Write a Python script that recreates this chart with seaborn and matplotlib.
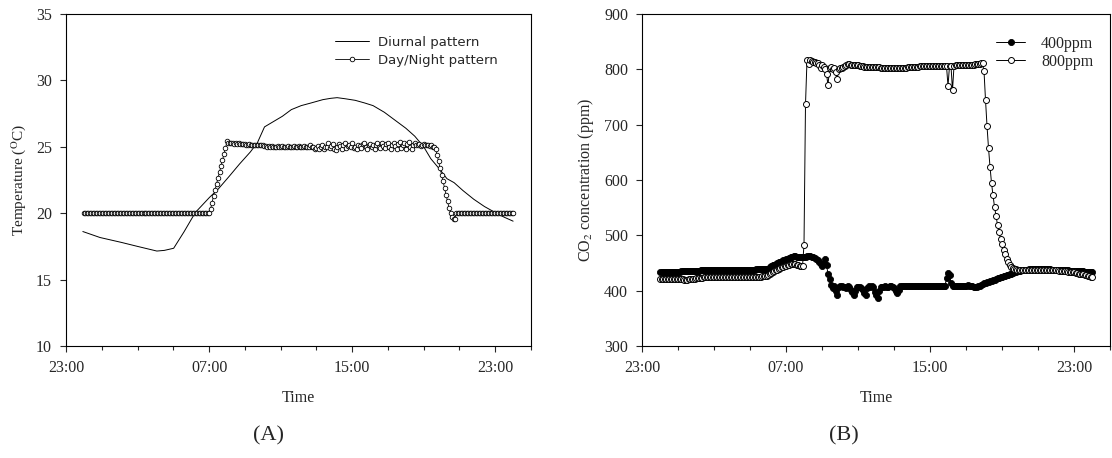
import numpy as np
import pandas as pd
import matplotlib
matplotlib.use('Agg')
import matplotlib.pyplot as plt
from matplotlib.ticker import MultipleLocator, FixedLocator
import seaborn as sns

#%% DATA ----------------------------------------------------------------
# x axis is hours counted from 23:00 (0 = 23:00, 8 = 07:00, 16 = 15:00, 24 = 23:00)
# logged series: one value every 5 min from 00:00 (x=1) to 24:00 (x=25)
t_start = 1.0
t_step = 5 / 60

# (A) Day/Night temperature pattern (degC), one row per clock hour 00..23 + final point
temp_daynight = [
    20.0, 20.0, 20.0, 20.0, 20.0, 20.0, 20.0, 20.0, 20.0, 20.0, 20.0, 20.0,  # 00
    20.0, 20.0, 20.0, 20.0, 20.0, 20.0, 20.0, 20.0, 20.0, 20.0, 20.0, 20.0,  # 01
    20.0, 20.0, 20.0, 20.0, 20.0, 20.0, 20.0, 20.0, 20.0, 20.0, 20.0, 20.0,  # 02
    20.0, 20.0, 20.0, 20.0, 20.0, 20.0, 20.0, 20.0, 20.0, 20.0, 20.0, 20.0,  # 03
    20.0, 20.0, 20.0, 20.0, 20.0, 20.0, 20.0, 20.0, 20.0, 20.0, 20.0, 20.0,  # 04
    20.0, 20.0, 20.0, 20.0, 20.0, 20.0, 20.0, 20.0, 20.0, 20.0, 20.0, 20.0,  # 05
    20.0, 20.0, 20.0, 20.0, 20.0, 20.0, 20.0, 20.0, 20.0, 20.0, 20.0, 20.0,  # 06
    20.0, 20.3, 20.8, 21.3, 21.75, 22.2, 22.65, 23.1, 23.55, 24.0, 24.45, 24.9,  # 07
    25.4, 25.3, 25.25, 25.25, 25.25, 25.2, 25.25, 25.2, 25.25, 25.2, 25.2, 25.2,  # 08
    25.2, 25.15, 25.15, 25.2, 25.15, 25.15, 25.1, 25.15, 25.15, 25.1, 25.15, 25.1,  # 09
    25.1, 25.05, 25.05, 25.0, 25.05, 25.0, 25.05, 25.0, 24.95, 25.0, 25.05, 25.0,  # 10
    25.0, 25.05, 25.0, 24.95, 25.0, 25.05, 25.0, 25.0, 24.95, 25.05, 25.0, 25.0,  # 11
    25.05, 25.0, 24.95, 25.0, 25.05, 25.0, 24.95, 25.0, 25.1, 24.95, 25.0, 24.85,  # 12
    24.9, 25.05, 24.8, 25.0, 25.1, 24.85, 25.0, 24.95, 25.25, 24.9, 25.05, 25.2,  # 13
    24.85, 24.75, 25.0, 25.2, 25.05, 24.8, 25.1, 25.25, 24.9, 25.05, 25.15, 24.95,  # 14
    25.25, 24.9, 25.0, 24.85, 25.15, 25.05, 24.9, 25.2, 25.3, 25.0, 24.85, 25.1,  # 15
    25.2, 24.95, 25.1, 24.85, 25.15, 25.3, 25.0, 24.9, 25.25, 25.05, 24.9, 25.2,  # 16
    25.3, 25.0, 24.85, 25.15, 25.3, 25.05, 24.85, 25.2, 25.35, 24.9, 25.1, 25.25,  # 17
    24.85, 25.2, 25.35, 25.0, 24.8, 25.1, 25.3, 25.15, 25.1, 25.2, 25.05, 25.15,  # 18
    25.2, 25.1, 25.15, 25.1, 25.05, 25.1, 25.0, 24.95, 24.85, 24.4, 23.9, 23.4,  # 19
    22.9, 22.4, 21.9, 21.4, 20.9, 20.4, 20.0, 19.7, 19.55, 19.6, 20.0, 20.0,  # 20
    20.0, 20.0, 20.0, 20.0, 20.0, 20.0, 20.0, 20.0, 20.0, 20.0, 20.0, 20.0,  # 21
    20.0, 20.0, 20.0, 20.0, 20.0, 20.0, 20.0, 20.0, 20.0, 20.0, 20.0, 20.0,  # 22
    20.0, 20.0, 20.0, 20.0, 20.0, 20.0, 20.0, 20.0, 20.0, 20.0, 20.0, 20.0,  # 23
    20.0,
]

# (A) Diurnal temperature pattern (hours from 23:00, degC)
diurnal_h = [0.94, 1.9, 3.1, 4.0, 5.08, 5.5, 6.02, 6.6, 7.23, 8.03, 8.5, 9.14, 9.7,
             10.3, 10.7, 11.1, 11.6, 12.1, 12.6, 13.15, 13.7, 14.36, 14.8, 15.16,
             15.6, 16.17, 16.7, 17.17, 17.8, 18.4, 19.0, 19.5, 20.0, 20.4, 20.9,
             21.3, 21.7, 22.2, 22.8, 23.4, 24.0, 24.5, 25.0]
diurnal_T = [18.62, 18.17, 17.8, 17.5, 17.15, 17.2, 17.36, 18.6, 20.05, 21.2, 21.8, 22.8, 23.7,
             24.6, 25.3, 26.5, 26.9, 27.3, 27.8, 28.1, 28.3, 28.55, 28.65, 28.7,
             28.62, 28.5, 28.3, 28.1, 27.6, 27.0, 26.4, 25.8, 25.0, 24.1, 23.3,
             22.6, 22.3, 21.7, 21.05, 20.5, 20.05, 19.7, 19.4]

# (B) CO2 concentration (ppm), 400ppm treatment
co2_400 = [
    434, 434, 434, 434, 434, 434, 434, 434, 434, 434, 434, 434,  # 00
    434, 434, 435, 435, 435, 435, 435, 435, 435, 436, 436, 436,  # 01
    436, 436, 436, 437, 437, 437, 437, 437, 437, 437, 437, 437,  # 02
    437, 437, 437, 437, 438, 438, 438, 438, 438, 438, 438, 438,  # 03
    438, 438, 438, 438, 438, 438, 438, 438, 438, 438, 438, 438,  # 04
    438, 438, 438, 438, 439, 439, 439, 439, 439, 439, 439, 440,  # 05
    440, 442, 444, 446, 447, 448, 450, 451, 452, 453, 455, 456,  # 06
    457, 458, 459, 460, 461, 462, 462, 461, 460, 460, 461, 461,  # 07
    461, 461, 462, 462, 462, 461, 460, 459, 458, 456, 452, 448,  # 08
    445, 450, 457, 446, 431, 421, 410, 405, 408, 400, 392, 406,  # 09
    408, 408, 407, 406, 404, 408, 407, 402, 398, 393, 400, 406,  # 10
    407, 407, 405, 401, 396, 392, 404, 408, 407, 408, 406, 398,  # 11
    392, 386, 400, 406, 407, 406, 408, 407, 407, 408, 408, 407,  # 12
    404, 399, 395, 402, 408, 408, 409, 408, 408, 408, 408, 408,  # 13
    408, 408, 408, 408, 408, 408, 408, 408, 408, 408, 408, 408,  # 14
    408, 408, 408, 408, 408, 408, 408, 408, 408, 408, 409, 422,  # 15
    432, 428, 413, 409, 408, 408, 408, 408, 409, 409, 408, 408,  # 16
    409, 410, 409, 408, 408, 407, 407, 407, 408, 409, 410, 412,  # 17
    413, 414, 415, 416, 417, 418, 419, 420, 421, 422, 423, 424,  # 18
    425, 426, 427, 428, 429, 430, 431, 432, 433, 434, 435, 436,  # 19
    436, 437, 437, 438, 438, 438, 439, 439, 439, 439, 439, 439,  # 20
    439, 439, 439, 439, 439, 439, 439, 439, 439, 438, 438, 438,  # 21
    438, 438, 438, 437, 437, 437, 437, 437, 437, 436, 436, 436,  # 22
    436, 436, 435, 435, 435, 435, 435, 434, 434, 434, 434, 434,  # 23
    434,
]

# (B) CO2 concentration (ppm), 800ppm treatment
co2_800 = [
    421, 421, 421, 421, 421, 421, 421, 421, 421, 421, 421, 421,  # 00
    421, 421, 421, 421, 420, 420, 420, 421, 421, 421, 421, 421,  # 01
    422, 422, 423, 423, 423, 424, 424, 424, 424, 424, 424, 424,  # 02
    424, 424, 425, 425, 425, 425, 425, 425, 425, 425, 425, 425,  # 03
    425, 425, 425, 425, 424, 424, 424, 424, 424, 424, 424, 424,  # 04
    424, 424, 424, 424, 424, 425, 425, 425, 426, 426, 426, 427,  # 05
    428, 430, 432, 434, 436, 437, 438, 440, 441, 442, 443, 444,  # 06
    445, 446, 447, 448, 449, 449, 448, 447, 446, 445, 445, 444,  # 07
    483, 737, 817, 809, 816, 815, 814, 813, 812, 811, 808, 803,  # 08
    808, 805, 800, 792, 771, 803, 804, 800, 803, 795, 782, 800,  # 09
    802, 803, 805, 806, 808, 809, 810, 808, 807, 808, 808, 807,  # 10
    807, 806, 806, 806, 805, 805, 805, 805, 805, 805, 804, 804,  # 11
    804, 804, 804, 803, 803, 803, 803, 803, 803, 803, 803, 803,  # 12
    803, 803, 803, 803, 803, 803, 803, 803, 803, 804, 804, 804,  # 13
    804, 804, 805, 805, 805, 806, 806, 806, 806, 806, 806, 806,  # 14
    806, 806, 806, 806, 806, 806, 806, 806, 806, 806, 806, 806,  # 15
    770, 806, 806, 762, 806, 807, 807, 807, 807, 807, 807, 807,  # 16
    808, 808, 808, 808, 808, 808, 809, 809, 810, 810, 811, 811,  # 17
    797, 745, 698, 658, 624, 595, 572, 552, 535, 519, 506, 494,  # 18
    484, 474, 466, 458, 451, 446, 443, 441, 440, 439, 438, 438,  # 19
    437, 437, 437, 438, 438, 438, 438, 438, 438, 438, 438, 438,  # 20
    438, 438, 438, 438, 438, 438, 438, 437, 437, 437, 437, 437,  # 21
    437, 437, 436, 436, 436, 435, 435, 435, 434, 434, 434, 433,  # 22
    433, 432, 432, 431, 431, 430, 430, 429, 428, 427, 426, 425,  # 23
    425,
]

tick_pos = [0, 8, 16, 24]
tick_lab = ['23:00', '07:00', '15:00', '23:00']

#%% DataFrames
t_log = t_start + t_step * np.arange(len(temp_daynight))
dfA = pd.DataFrame({'time': t_log, 'temp': temp_daynight})
dfD = pd.DataFrame({'time': diurnal_h, 'temp': diurnal_T})
dfB = pd.DataFrame({'time': t_log, 'c400': co2_400, 'c800': co2_800})

#%% Figure
sns.set_style('ticks')
plt.rcParams['font.family'] = ['Liberation Serif', 'DejaVu Serif']
plt.rcParams['mathtext.fontset'] = 'stix'
plt.rcParams['axes.linewidth'] = 0.8
fs = 11.5

fig = plt.figure(figsize=(11.12, 4.58), dpi=100)
ax1 = fig.add_axes([66 / 1112, 1 - 346 / 458, 465 / 1112, 332 / 458])
ax2 = fig.add_axes([642 / 1112, 1 - 346 / 458, 468 / 1112, 332 / 458])

# (A) temperature
sns.lineplot(data=dfD, x='time', y='temp', ax=ax1, color='black', lw=0.7,
             estimator=None, sort=False, label='Diurnal pattern')
sns.lineplot(data=dfA, x='time', y='temp', ax=ax1, color='black', lw=0.6,
             marker='o', ms=3.3, mfc='white', mec='black', mew=0.6,
             estimator=None, sort=False, label='Day/Night pattern')
ax1.set_ylim(10, 35)
ax1.yaxis.set_major_locator(MultipleLocator(5))
ax1.set_ylabel('Temperature ($^{\\mathrm{O}}$C)', fontsize=11, labelpad=6)
ax1.legend(loc='upper left', bbox_to_anchor=(0.578, 0.935), frameon=False,
           borderaxespad=0, borderpad=0, handlelength=2.6, handletextpad=0.7,
           labelspacing=0.4, prop={'family': 'DejaVu Sans', 'size': 9.5})

# (B) CO2
sns.lineplot(data=dfB, x='time', y='c400', ax=ax2, color='black', lw=0.7,
             marker='o', ms=4.4, mfc='black', mec='black', mew=0.6,
             estimator=None, sort=False, label='400ppm')
sns.lineplot(data=dfB, x='time', y='c800', ax=ax2, color='black', lw=0.7,
             marker='o', ms=4.3, mfc='white', mec='black', mew=0.7,
             estimator=None, sort=False, label='800ppm')
ax2.set_ylim(300, 900)
ax2.yaxis.set_major_locator(MultipleLocator(100))
ax2.set_ylabel('CO$_2$ concentration (ppm)', fontsize=fs, labelpad=6)
ax2.legend(loc='upper left', bbox_to_anchor=(0.757, 0.935), frameon=False,
           borderaxespad=0, borderpad=0, handlelength=1.8, handletextpad=1.0,
           labelspacing=0.15, prop={'family': 'Liberation Serif', 'size': fs})

for ax in (ax1, ax2):
    ax.set_xlim(0, 26)
    ax.xaxis.set_major_locator(FixedLocator(tick_pos))
    ax.set_xticklabels(tick_lab)
    ax.xaxis.set_minor_locator(MultipleLocator(2))
    ax.set_xlabel('Time', fontsize=fs, labelpad=10)
    ax.tick_params(which='major', direction='out', length=4, width=0.8,
                   labelsize=fs, pad=6)
    ax.tick_params(which='minor', direction='out', length=3, width=0.8)
    for s in ax.spines.values():
        s.set_visible(True)
        s.set_color('black')
        s.set_linewidth(0.8)

fig.text(268 / 1112, 1 - 436 / 458, '(A)', ha='center', va='center', fontsize=16)
fig.text(844 / 1112, 1 - 436 / 458, '(B)', ha='center', va='center', fontsize=16)

fig.savefig('out.png', dpi=100, facecolor='white')
